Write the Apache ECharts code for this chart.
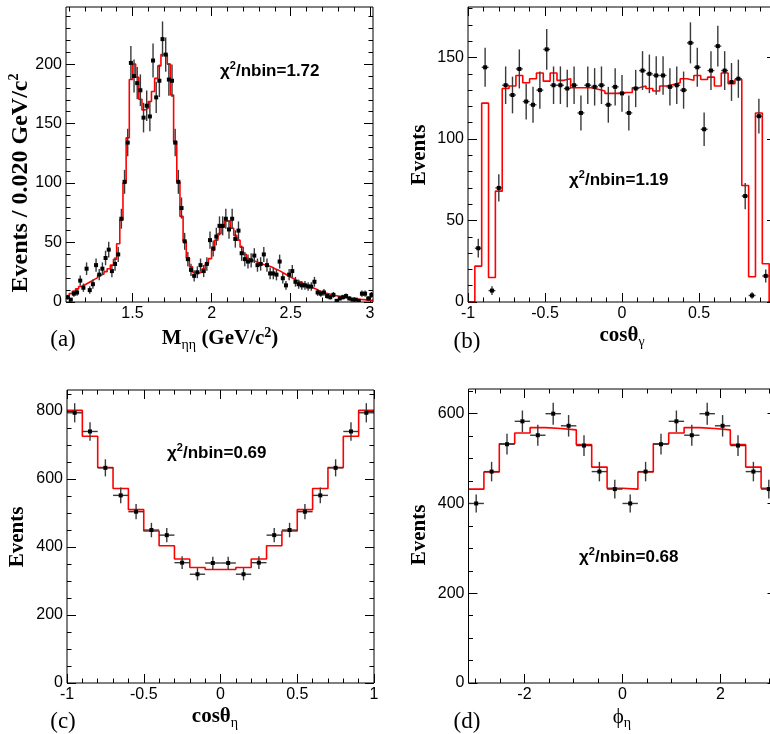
<!DOCTYPE html>
<html>
<head>
<meta charset="utf-8">
<script src="https://cdn.jsdelivr.net/npm/echarts@6/dist/echarts.min.js"></script>
<style>
html,body{margin:0;padding:0;overflow:hidden;background:#fff;}
#chart{width:770px;height:734px;}
</style>
</head>
<body>
<div id="chart"></div>
<script>
// ---------- Panel (a): M(eta eta) ----------
const massBinLo = 1.08, massBinW = 0.02;
const massData = [
  4, 2, 7, 8, 18, 12, 28, 10, 15, 31, 23, 28, 37, 44, 26, 32, 40, 70, 101, 134,
  201, 190, 184, 178, 155, 165, 156, 203, 172, 186, 221, 208, 187, 186, 134, 101, 79, 51, 36, 27,
  22, 25, 31, 26, 32, 52, 45, 55, 64, 64, 70, 61, 70, 53, 60, 41, 36, 34, 35, 39,
  31, 32, 40, 31, 24, 24, 23, 34, 20, 14, 23, 26, 17, 15, 14, 14, 13, 13, 17, 8,
  7, 8, 5, 4, 6, 1, 3, 4, 5, 3, 2, 2, 1, 7, 7, 3, 6
];
const massFit = [
  4, 7, 9, 11, 13, 14.5, 16, 17.5, 19, 20.5, 22.5, 23.5, 25.5, 28, 31,
  36, 49, 69, 100, 138,
  187, 200, 189, 170.5, 161.5, 163, 168.5, 177, 188, 198.5, 208, 208, 200, 174, 135, 101, 72, 51, 37, 29.5,
  25, 24.5, 25, 28, 32, 36.5, 43.5, 52, 57.5, 63, 68, 68, 62, 56, 52, 46, 40, 36.5,
  35, 34, 33, 32, 31, 30.5, 29.5, 28, 27, 25.5, 24, 22.5, 21, 19.5, 18, 17, 15.5, 14.5, 13.5, 12,
  11, 9.5, 8.5, 7.5, 7, 6, 5.5, 5, 4.5, 4, 3.5, 3, 2.8, 2.5, 2.2, 2, 1.8, 1.6, 1.5
];
const massXTicks = [1.5, 2, 2.5, 3];
const massYTicks = [0, 50, 100, 150, 200];

// ---------- Panel (b): cos(theta_gamma) ----------
const cgBinLo = -1, cgBinW = 2 / 45;
const cgData = [
  null, 33, 144, 7, 70, 133, 127, 143, 123, 121, 130, 155, 133, 133, 131,
  133, 116, 133, 132, 133, 121, 132, 128, 116, 131, 142, 140, 139, 139, 132,
  133, 130, 159, 144, 106, 142, 157, 142, 135, 137, 65, 4, 114, 16, null
];
const cgFit = [
  0, 22, 122, 15, 68, 131, 132.5, 139, 134.5, 137, 140.5, 135.5, 140.5, 136, 137,
  131.5, 131.5, 131.5, 130.5, 129.5, 128, 128, 128.5, 128.5, 131.5, 132.5, 131, 129.5, 132.5, 133.5,
  134.5, 137, 136, 139, 136.5, 138, 132.5, 140.5, 134, 136.5, 71.5, 15.5, 116, 23.5, 0
];
const cgXTicks = [-1, -0.5, 0, 0.5, 1];
const cgYTicks = [0, 50, 100, 150];

// ---------- Panel (c): cos(theta_eta) ----------
const ceBinLo = -1, ceBinW = 0.1;
const ceData = [795, 740, 633, 552, 504, 450, 435, 354, 320, 353, 353, 320, 354, 435, 450, 504, 552, 633, 740, 795];
const ceFit  = [802, 726, 634, 572, 510, 447, 404, 365, 340, 334, 334, 340, 365, 404, 447, 510, 572, 634, 726, 802];
const ceXTicks = [-1, -0.5, 0, 0.5, 1];
const ceYTicks = [0, 200, 400, 600, 800];

// ---------- Panel (d): phi_eta ----------
const phiBinLo = -Math.PI, phiBinW = Math.PI / 10;
const phiData = [400, 471, 532, 583, 552, 600, 573, 529, 471, 432, 400, 471, 532, 583, 552, 600, 573, 529, 471, 432];
const phiFit  = [432, 470, 533, 557, 569, 567, 564, 531, 481, 434, 432, 470, 533, 557, 569, 567, 564, 531, 481, 434];
const phiXTicks = [-2, 0, 2];
const phiYTicks = [0, 200, 400, 600];

// ---------- Texts ----------
const chi2Texts = ['1.72', '1.19', '0.69', '0.68'];
const panelTags = ['(a)', '(b)', '(c)', '(d)'];

// ---------- helpers ----------
const SANS = "'Liberation Sans', Arial, Helvetica, sans-serif";
const SERIF = "'Liberation Serif', 'Times New Roman', serif";

function rng(a, b, s) {
  const r = [];
  for (let v = a; v <= b + 1e-9; v += s) r.push(Math.round(v * 1000) / 1000);
  return r;
}
function stepPts(lo, w, vals) {
  const p = [];
  vals.forEach((v, i) => { p.push([lo + i * w, v]); p.push([lo + (i + 1) * w, v]); });
  return p;
}
function errPts(lo, w, vals) {
  const out = [];
  vals.forEach((v, i) => { if (v != null) out.push([lo + (i + 0.5) * w, v, Math.sqrt(v), w / 2]); });
  return out;
}
function makeAxes(gi, dim, min, max, major, minor) {
  const pos = dim === 'x' ? ['bottom', 'top'] : ['left', 'right'];
  const out = [];
  pos.forEach((p, pi) => {
    [[major, 9], [minor, 4.5]].forEach(([vals, len], ti) => {
      out.push({
        type: 'value', gridIndex: gi, min: min, max: max, position: p,
        axisLine: { show: false, onZero: false },
        splitLine: { show: false },
        axisTick: { show: true, inside: true, length: len, customValues: vals, lineStyle: { color: '#000', width: 1 } },
        axisLabel: {
          show: pi === 0 && ti === 0, customValues: major, hideOverlap: false,
          color: '#000', fontFamily: SANS, fontSize: 16, margin: 4
        }
      });
    });
  });
  return out;
}
function renderErr(params, api) {
  const x = api.value(0), y = api.value(1), e = api.value(2), hw = api.value(3);
  const p = api.coord([x, y]);
  const t = api.coord([x, y + e]);
  const b = api.coord([x, Math.max(0, y - e)]);
  const l = api.coord([x - hw, y]);
  const r = api.coord([x + hw, y]);
  const st = { stroke: '#3a3a3a', lineWidth: 1.4 };
  return {
    type: 'group', children: [
      { type: 'line', shape: { x1: p[0], y1: t[1], x2: p[0], y2: b[1] }, style: st },
      { type: 'line', shape: { x1: l[0], y1: p[1], x2: r[0], y2: p[1] }, style: st },
      { type: 'rect', shape: { x: p[0] - 2, y: p[1] - 2, width: 4, height: 4 }, style: { fill: '#000' } }
    ]
  };
}

const panels = [
  { grid: { left: 66, top: 7, width: 307, height: 295 }, x: [1.08, 3.02], y: [0, 248],
    xMaj: massXTicks, xMin: rng(1.1, 3.0, 0.1), yMaj: massYTicks, yMin: rng(10, 240, 10),
    lo: massBinLo, w: massBinW, data: massData, fit: massFit },
  { grid: { left: 468, top: 7, width: 308, height: 295 }, x: [-1, 1], y: [0, 181],
    xMaj: cgXTicks, xMin: rng(-0.9, 0.9, 0.1), yMaj: cgYTicks, yMin: rng(10, 180, 10),
    lo: cgBinLo, w: cgBinW, data: cgData, fit: cgFit },
  { grid: { left: 67, top: 390, width: 307, height: 293 }, x: [-1, 1], y: [0, 862],
    xMaj: ceXTicks, xMin: rng(-0.9, 0.9, 0.1), yMaj: ceYTicks, yMin: rng(50, 850, 50),
    lo: ceBinLo, w: ceBinW, data: ceData, fit: ceFit },
  { grid: { left: 468.5, top: 389, width: 308, height: 294 }, x: [-Math.PI, Math.PI], y: [0, 655],
    xMaj: phiXTicks, xMin: rng(-3, 3, 0.5), yMaj: phiYTicks, yMin: rng(50, 650, 50),
    lo: phiBinLo, w: phiBinW, data: phiData, fit: phiFit }
];

const grids = [], xAxes = [], yAxes = [], series = [];
panels.forEach((pn, gi) => {
  grids.push(Object.assign({ show: true, borderColor: '#000', borderWidth: 1, backgroundColor: 'transparent',
    containLabel: false, outerBoundsMode: 'none', z: 4 }, pn.grid));
  xAxes.push(...makeAxes(gi, 'x', pn.x[0], pn.x[1], pn.xMaj, pn.xMin));
  yAxes.push(...makeAxes(gi, 'y', pn.y[0], pn.y[1], pn.yMaj, pn.yMin));
  series.push({
    type: 'line', xAxisIndex: gi * 4, yAxisIndex: gi * 4, data: stepPts(pn.lo, pn.w, pn.fit),
    showSymbol: false, symbol: 'none', clip: true, silent: true, z: 2,
    lineStyle: { color: '#ff0000', width: 1.6 }
  });
  series.push({
    type: 'custom', xAxisIndex: gi * 4, yAxisIndex: gi * 4, data: errPts(pn.lo, pn.w, pn.data),
    renderItem: renderErr, clip: true, silent: true, z: 3
  });
});

function txt(x, y, text, rich, opts) {
  return Object.assign({ type: 'text', x: x, y: y, silent: true,
    style: { text: text, rich: rich, align: 'center', verticalAlign: 'middle', fill: '#000' } }, opts || {});
}
const richTitle = {
  b: { font: 'bold 21px ' + SERIF, fill: '#000', lineHeight: 26 },
  bb: { font: 'bold 24px ' + SERIF, fill: '#000', lineHeight: 28 },
  n: { font: '21px ' + SERIF, fill: '#000', lineHeight: 26 },
  u: { font: '14px ' + SERIF, fill: '#000', lineHeight: 12, verticalAlign: 'bottom' },
  s: { font: 'bold 14px ' + SERIF, fill: '#000', lineHeight: 12, verticalAlign: 'top' }
};
const richChi = {
  c: { font: 'bold 17px ' + SANS, fill: '#000', lineHeight: 21 },
  s: { font: 'bold 11px ' + SANS, fill: '#000', lineHeight: 10, verticalAlign: 'top' }
};
const chiStr = v => '{c|χ}{s|2}{c|/nbin=' + v + '}';
const rot = { rotation: Math.PI / 2 };
const tagRich = { t: { font: '23px ' + SERIF, fill: '#000' } };

const graphics = [
  txt(21, 183, '{bb|Events / 0.020 GeV/c}{s|2}', richTitle, rot),
  txt(420, 155, '{b|Events}', richTitle, rot),
  txt(18, 537, '{b|Events}', richTitle, rot),
  txt(420, 535, '{b|Events}', richTitle, rot),
  txt(220, 339, '{b|M}{u|ηη}{b| (GeV/c}{s|2}{b|)}', richTitle),
  txt(622, 336, '{b|cosθ}{u|γ}', richTitle),
  txt(215, 717, '{b|cosθ}{u|η}', richTitle),
  txt(622, 717, '{n|ϕ}{u|η}', richTitle),
  txt(63, 340, '{t|' + panelTags[0] + '}', tagRich),
  txt(467, 342, '{t|' + panelTags[1] + '}', tagRich),
  txt(63, 722, '{t|' + panelTags[2] + '}', tagRich),
  txt(467, 722, '{t|' + panelTags[3] + '}', tagRich)
];
[[220, 71], [569, 180], [167, 453], [579, 557]].forEach((p, i) => {
  const g = txt(p[0], p[1], chiStr(chi2Texts[i]), richChi);
  g.style.align = 'left';
  graphics.push(g);
});

const chart = echarts.init(document.getElementById('chart'), null, { renderer: 'canvas' });
chart.setOption({
  animation: false,
  backgroundColor: '#fff',
  grid: grids,
  xAxis: xAxes,
  yAxis: yAxes,
  series: series,
  graphic: graphics
});
</script>
</body>
</html>
